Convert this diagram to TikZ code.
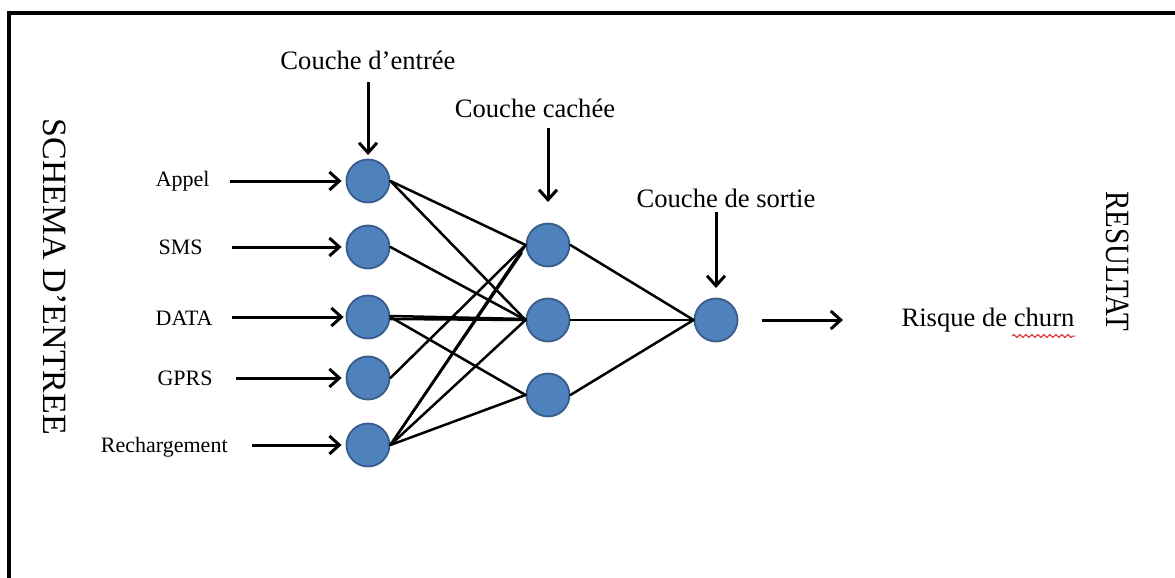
\documentclass[tikz,border=0pt]{standalone}
\usepackage{fontspec}
\setmainfont{Liberation Serif}
\usetikzlibrary{arrows.meta,decorations.pathmorphing}
\definecolor{neuronfill}{RGB}{79,129,189}
\definecolor{neurondraw}{RGB}{56,93,138}
\definecolor{squiggle}{RGB}{225,40,40}
\begin{document}
\begin{tikzpicture}[x=0.5pt,y=-0.5pt,
  neuron/.style={circle, fill=neuronfill, draw=neurondraw, line width=0.9pt,
                 minimum size=21.5pt, inner sep=0pt},
  link/.style={line width=1.25pt, line cap=round},
  feed/.style={line width=1.5pt, -{Straight Barb[length=5pt,width=9pt,line width=1.5pt]}},
  inlabel/.style={font=\fontsize{11}{13}\selectfont, anchor=east, inner sep=0pt},
  layerlabel/.style={font=\fontsize{13.3}{16}\selectfont, inner sep=0pt},
  sidetitle/.style={font=\fontsize{17}{20}\selectfont, rotate=-90, inner sep=0pt}]

% canvas and frame
\useasboundingbox (0,0) rectangle (1175,578);
\draw[line width=1.6pt] (9,578) -- (9,13) -- (1175,13);

% side titles
\node[sidetitle] (tin) at (55,277) {SCHEMA D'ENTREE};
\node[sidetitle, xscale=0.85] (tout) at (1118,261) {RESULTAT};

% input layer
\node[neuron] (i1) at (368,181) {};
\node[neuron] (i2) at (368,247) {};
\node[neuron] (i3) at (368,317) {};
\node[neuron] (i4) at (368,378) {};
\node[neuron] (i5) at (368,445) {};

% hidden layer
\node[neuron] (h1) at (548,245) {};
\node[neuron] (h2) at (548,320) {};
\node[neuron] (h3) at (548,395) {};

% output layer
\node[neuron] (o) at (716,320) {};

% input labels
\node[inlabel] (l1) at (210,181) {Appel};
\node[inlabel] (l2) at (203,247) {SMS};
\node[inlabel] (l3) at (213,318) {DATA};
\node[inlabel] (l4) at (213,378) {GPRS};
\node[inlabel] (l5) at (228,447) {Rechargement};

% input arrows
\coordinate (s1) at (230,181);
\coordinate (s2) at (232,247);
\coordinate (s3) at (232,317);
\coordinate (s4) at (236,378);
\coordinate (s5) at (252,445);
\draw[feed, shorten >=2pt] (s1) -- (i1);
\draw[feed, shorten >=2pt] (s2) -- (i2);
\draw[feed, shorten >=1pt] (s3) -- (i3);
\draw[feed, shorten >=2pt] (s4) -- (i4);
\draw[feed, shorten >=2pt] (s5) -- (i5);

% layer titles with their arrows
\node[layerlabel] (c1) at (368,60) {Couche d’entrée};
\node[layerlabel] (c2) at (535,108) {Couche cachée};
\node[layerlabel] (c3) at (726,198) {Couche de sortie};
\coordinate (c1a) at (368,82);  \coordinate (c1b) at (368,155);
\coordinate (c2a) at (548,128); \coordinate (c2b) at (548,202);
\coordinate (c3a) at (716,212); \coordinate (c3b) at (716,288);
\draw[feed] (c1a) -- (c1b);
\draw[feed] (c2a) -- (c2b);
\draw[feed] (c3a) -- (c3b);

% input -> hidden connections
\draw[link] (i1.east) -- (h1.west);
\draw[link] (i1.east) -- (h2.west);
\draw[link] (i2.east) -- (h2.west);
\draw[link] ([yshift=-1pt]i3.east) -- (h2.west);
\draw[link] ([yshift=0.5pt]i3.east) -- ([yshift=0.5pt]h2.west);
\draw[link] (i3.east) -- (h3.west);
\draw[link] (i4.east) -- (h1.west);
\draw[link] (i5.east) -- (h1.west);
\draw[link] (i5.east) -- ([shift={(-2pt,-4pt)}]h1.west);
\draw[link] (i5.east) -- (h2.west);
\draw[link] (i5.east) -- (h3.west);

% hidden -> output connections
\draw[link] (h1.east) -- (o.west);
\draw[link] (h2.east) -- (o.west);
\draw[link] (h3.east) -- (o.west);

% result
\coordinate (r1) at (762,320);
\coordinate (r2) at (843,320);
\draw[feed] (r1) -- (r2);
\node[layerlabel] (res) at (988,320) {Risque de churn};
\draw[squiggle, line width=0.5pt, decorate,
      decoration={snake, amplitude=0.8pt, segment length=3pt}]
      (1012,336) -- (1075,336);
\end{tikzpicture}
\end{document}
